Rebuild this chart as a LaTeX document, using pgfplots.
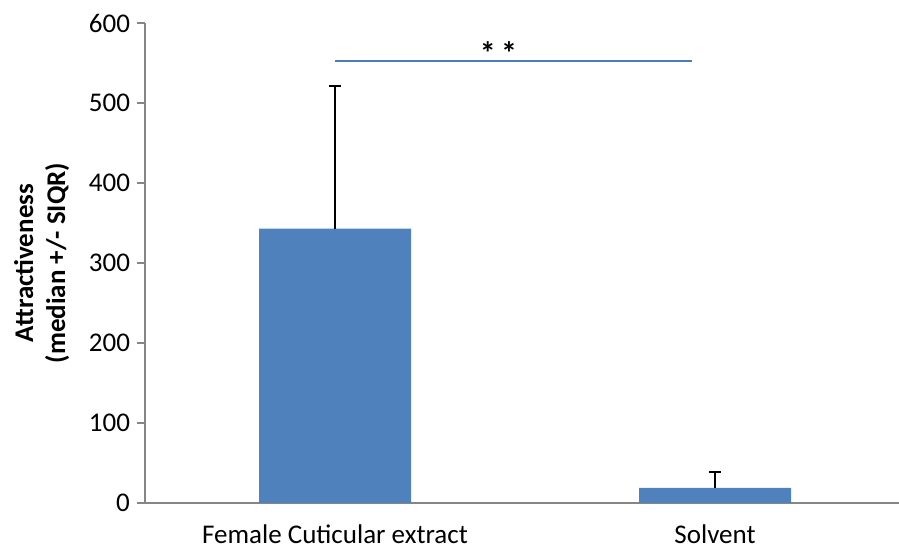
\documentclass[border=0pt]{standalone}
\usepackage{fontspec}
\setmainfont{Carlito}
\usepackage{pgfplots}
\pgfplotsset{compat=1.18}
\definecolor{barblue}{HTML}{4F81BD}
\definecolor{axisgray}{HTML}{868686}
\definecolor{siglineblue}{HTML}{4A7EBB}

\begin{document}
\begin{tikzpicture}
\begin{axis}[
  scale only axis, width=377pt, height=240pt,
  xmin=-0.5, xmax=1.484, ymin=0, ymax=600,
  ytick={0,100,...,600},
  xtick={0,1}, xticklabels={Female Cuticular extract, Solvent},
  axis x line*=bottom, axis y line*=left,
  axis line style={axisgray, line width=0.8pt},
  x axis line style={shorten <=-4pt},
  tick align=outside, major tick length=4pt,
  ytick style={axisgray, line width=0.8pt},
  xtick style={draw=none},
  font=\fontsize{13.5}{16}\selectfont,
  ticklabel style={font=\fontsize{13.5}{16}\selectfont},
  xticklabel style={yshift=-3.5pt},
  /pgf/number format/assume math mode=true,
  ylabel={Attractiveness\\(median +/- SIQR)},
  ylabel style={font=\fontsize{13.5}{16}\selectfont\bfseries, align=center},
  ylabel shift=3pt,
]
\addplot[ybar, bar width=0.4, fill=barblue, draw=none,
  error bars/.cd, y dir=plus, y explicit,
  error bar style={black, line width=1pt},
  error mark options={black, mark size=3pt, line width=1pt, rotate=90}]
  coordinates {(0,343) +- (0,178) (1,19) +- (0,20)};
\addplot[sharp plot, no marks, siglineblue, line width=1pt]
  coordinates {(0,553) (0.94,553)};
\node[anchor=base, inner sep=0pt, yshift=-2pt, font=\fontsize{16}{18}\selectfont\bfseries] at (axis cs:0.43,553) {*\,*};
\end{axis}
\pgfresetboundingbox
\path ([xshift=-72.5pt,yshift=-23pt]current axis.south west) rectangle ([yshift=11.5pt]current axis.north east);
\end{tikzpicture}
\end{document}
